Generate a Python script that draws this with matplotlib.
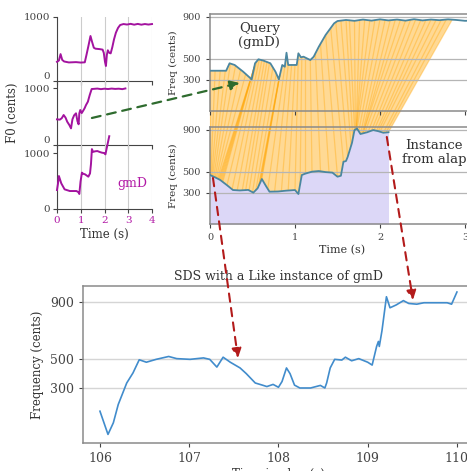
import numpy as np
import matplotlib
matplotlib.use('Agg')
import matplotlib.pyplot as plt
from matplotlib.patches import Polygon, ConnectionPatch
from matplotlib.lines import Line2D

plt.rcParams['font.family'] = 'DejaVu Serif'
plt.rcParams['text.color'] = '#333333'
plt.rcParams['axes.labelcolor'] = '#333333'
plt.rcParams['xtick.color'] = '#444444'
plt.rcParams['ytick.color'] = '#444444'

# --- three gmD instances (left panel), time in s, F0 in cents
gmd1_t = [0, 0.08, 0.15, 0.22, 0.3, 0.5, 0.8, 1.0, 1.17, 1.24, 1.33, 1.41, 1.47, 1.55, 1.62, 1.8,
          1.92, 1.97, 2.02, 2.06, 2.1, 2.14, 2.2, 2.26, 2.33, 2.4, 2.48, 2.57, 2.66, 2.8, 2.95, 3.1,
          3.25, 3.4, 3.55, 3.7, 3.85, 4.0]
gmd1_f = [300, 320, 420, 330, 305, 290, 295, 288, 292, 406, 560, 703, 620, 520, 505, 498,
          490, 440, 300, 234, 410, 480, 440, 432, 530, 650, 755, 830, 875, 890, 882, 893,
          880, 892, 880, 890, 882, 890]

gmd2_t = [0, 0.12, 0.2, 0.28, 0.36, 0.43, 0.52, 0.59, 0.65, 0.72, 0.8, 0.86, 0.91, 0.94, 0.98,
          1.04, 1.1, 1.16, 1.22, 1.3, 1.38, 1.46, 1.55, 1.7, 1.85, 2.0, 2.15, 2.3, 2.45, 2.6, 2.75, 2.88]
gmd2_f = [450, 445, 470, 526, 480, 409, 350, 292, 450, 520, 556, 420, 363, 556, 614,
          560, 600, 643, 700, 760, 880, 982, 985, 990, 980, 988, 982, 990, 984, 988, 980, 992]

gmd3_t = [0, 0.04, 0.08, 0.18, 0.32, 0.54, 0.82, 0.9, 0.94, 0.99, 1.05, 1.1, 1.18, 1.32, 1.39,
          1.43, 1.47, 1.52, 1.6, 1.7, 1.8, 1.9, 1.98, 2.04, 2.1, 2.15, 2.2]
gmd3_f = [339, 450, 589, 458, 351, 321, 321, 300, 268, 488, 649, 630, 619, 577, 636,
          800, 1070, 1020, 1030, 1035, 1018, 1005, 1000, 976, 1100, 1200, 1300]

# --- query (gmD) and the matched instance from the alap
query_t = [0, 0.19, 0.23, 0.29, 0.39, 0.49, 0.53, 0.57, 0.63, 0.71, 0.77, 0.81, 0.85, 0.88, 0.9,
           0.92, 0.96, 1.02, 1.04, 1.07, 1.1, 1.18, 1.22, 1.28, 1.36, 1.46, 1.5, 1.6, 1.7, 1.8,
           1.9, 2.0, 2.1, 2.2, 2.3, 2.4, 2.5, 2.6, 2.7, 2.8, 2.9, 3.0, 3.1]
query_f = [384, 384, 455, 439, 375, 302, 455, 493, 480, 455, 375, 302, 439, 422, 556,
           439, 439, 439, 550, 512, 518, 486, 518, 613, 725, 836, 858, 868, 860, 872,
           862, 874, 864, 872, 862, 875, 864, 872, 866, 874, 868, 860, 862]

inst_t = [0, 0.06, 0.12, 0.2, 0.27, 0.35, 0.45, 0.51, 0.56, 0.61, 0.66, 0.7, 0.8, 0.9, 1.0,
          1.04, 1.08, 1.12, 1.2, 1.28, 1.36, 1.44, 1.5, 1.54, 1.57, 1.6, 1.62, 1.67, 1.7, 1.73,
          1.77, 1.85, 1.92, 1.98, 2.04, 2.1]
inst_f = [467, 445, 420, 370, 324, 320, 325, 299, 340, 429, 360, 308, 310, 318, 324,
          286, 467, 480, 499, 505, 495, 490, 451, 460, 594, 600, 640, 772, 896, 910,
          858, 875, 896, 885, 870, 875]

# DTW alignment: matched (query time, instance time) pairs
match_q = [0, 0.06, 0.12, 0.18, 0.24, 0.30, 0.36, 0.42, 0.48, 0.52, 0.52, 0.52, 0.52, 0.52,
           0.55, 0.58, 0.61, 0.64, 0.67, 0.70, 0.74, 0.78, 0.81, 0.82, 0.82, 0.82, 0.82,
           0.88, 0.92, 0.96, 1.0, 1.04, 1.08, 1.12, 1.18, 1.24, 1.3, 1.36, 1.42, 1.48, 1.54,
           1.6, 1.64, 1.7, 1.76, 1.82, 1.88, 1.94, 2.0, 2.06, 2.12, 2.18, 2.24, 2.3, 2.36,
           2.42, 2.48, 2.54, 2.6, 2.66, 2.72, 2.78, 2.85]
match_i = [0, 0.01, 0.02, 0.03, 0.045, 0.06, 0.075, 0.09, 0.10, 0.11, 0.12, 0.13, 0.14, 0.15,
           0.2, 0.26, 0.32, 0.38, 0.42, 0.46, 0.5, 0.54, 0.57, 0.58, 0.59, 0.60, 0.61,
           0.68, 0.76, 0.84, 0.92, 1.0, 1.06, 1.12, 1.2, 1.3, 1.4, 1.5, 1.57, 1.62, 1.66,
           1.68, 1.7, 1.71, 1.72, 1.72, 1.72, 1.73, 1.75, 1.77, 1.79, 1.8, 1.8, 1.82, 1.86,
           1.9, 1.93, 1.96, 1.98, 2.0, 2.04, 2.07, 2.1]

# --- SDS segment of the alap
sds_t = [106.0, 106.09, 106.15, 106.205, 106.3, 106.37, 106.44, 106.52, 106.63, 106.77, 106.86,
         107.01, 107.16, 107.23, 107.31, 107.38, 107.46, 107.57, 107.64, 107.74, 107.83, 107.87,
         107.94, 108.0, 108.04, 108.09, 108.13, 108.18, 108.24, 108.36, 108.47, 108.52, 108.54,
         108.58, 108.63, 108.71, 108.75, 108.82, 108.9, 109.0, 109.05, 109.1, 109.12, 109.13,
         109.16, 109.21, 109.25, 109.32, 109.4, 109.46, 109.55, 109.63, 109.74, 109.89, 109.94, 110.0]
sds_f = [138, -24, 57, 185, 335, 405, 497, 480, 500, 520, 505,
         500, 510, 500, 446, 515, 480, 440, 400, 335, 318, 310,
         325, 305, 345, 440, 400, 320, 300, 300, 318, 300, 335,
         440, 500, 495, 515, 490, 505, 480, 460, 590, 625, 590,
         700, 937, 860, 880, 910, 890, 885, 895, 895, 895, 885, 970]

W, H = 467, 471
fig = plt.figure(figsize=(W / 100, H / 100), dpi=100)


def box(x0, y0, x1, y1):
    return [x0 / W, 1 - y1 / H, (x1 - x0) / W, (y1 - y0) / H]


magenta = '#a3139f'

# left panel
ax_g1 = fig.add_axes(box(57, 17, 152, 81))
ax_g2 = fig.add_axes(box(57, 81, 152, 145))
ax_g3 = fig.add_axes(box(57, 145, 152, 209))
for ax, t, f, top in [(ax_g1, gmd1_t, gmd1_f, 1000), (ax_g2, gmd2_t, gmd2_f, 1123),
                      (ax_g3, gmd3_t, gmd3_f, 1143)]:
    ax.plot(t, f, color=magenta, lw=1.4, clip_on=False, zorder=3)
    ax.set_xlim(0, 4)
    ax.set_ylim(0, top)
    ax.set_yticks([0, 1000])
    ax.set_xticks([0, 1, 2, 3, 4])
    ax.grid(axis='x', color='#cccccc', lw=0.8)
    ax.spines[['top', 'right']].set_visible(False)
    for s in ['left', 'bottom']:
        ax.spines[s].set_color('#444444')
    ax.tick_params(labelsize=7.5, length=3, width=0.8, pad=2)
    ax.patch.set_alpha(0)
# the "0" labels of the upper two strips sit just above their baseline
for ax in [ax_g1, ax_g2]:
    ax.tick_params(labelbottom=False)
    ax.get_yticklabels()[0].set_verticalalignment('bottom')
ax_g3.tick_params(axis='x', labelcolor='#b21aa6')
ax_g2.set_ylabel('F0 (cents)', fontsize=8.5, labelpad=3)
ax_g3.set_xlabel('Time (s)', fontsize=8.5, labelpad=2)
ax_g3.text(3.16, 464, 'gmD', color='#b21aa6', fontsize=9, ha='center', va='center')

# query / instance panels
line_col = '#4a86a0'
ax_q = fig.add_axes(box(210, 14, 473.5, 111))
ax_i = fig.add_axes(box(210, 127, 473.5, 224))
for ax in [ax_q, ax_i]:
    ax.set_xlim(0, 3.1)
    ax.set_ylim(0, 925)
    ax.set_yticks([300, 500, 900])
    ax.set_xticks([0, 1, 2, 3])
    ax.grid(axis='y', color='#b5b5b5', lw=0.9)
    ax.set_facecolor('none')
    for s in ax.spines.values():
        s.set_color('#8a8a8a')
        s.set_linewidth(1.1)
    ax.tick_params(labelsize=7, length=3, width=0.8)
    ax.set_ylabel('Freq (cents)', fontsize=7.5, labelpad=3)
ax_q.tick_params(labelbottom=False)
ax_q.plot(query_t, query_f, color=line_col, lw=1.3, zorder=3)
ax_i.fill_between(inst_t, 0, inst_f, color='#dcd7f7', lw=0, zorder=1)
ax_i.plot(inst_t, inst_f, color=line_col, lw=1.3, zorder=3)
ax_i.set_xlabel('Time (s)', fontsize=8, labelpad=2)
ax_q.text(0.58, 720, 'Query\n(gmD)', ha='center', va='center', fontsize=9.5, linespacing=1.1)
ax_i.text(2.64, 680, 'Instance\nfrom alap', ha='center', va='center', fontsize=9.5,
          linespacing=1.1, clip_on=False)

# SDS panel
ax_s = fig.add_axes(box(83, 286, 473, 443))
ax_s.plot(sds_t, sds_f, color='#418ccc', lw=1.2)
ax_s.set_xlim(105.81, 110.18)
ax_s.set_ylim(-84, 1012)
ax_s.set_yticks([300, 500, 900])
ax_s.set_xticks([106, 107, 108, 109, 110])
ax_s.grid(axis='y', color='#d5d5d5', lw=1.0)
for s in ax_s.spines.values():
    s.set_color('#8a8a8a')
    s.set_linewidth(1.1)
ax_s.tick_params(labelsize=9, length=3, width=0.8)
ax_s.set_title('SDS with a Like instance of gmD', fontsize=9, pad=4)
ax_s.set_ylabel('Frequency (cents)', fontsize=8.5)
ax_s.set_xlabel('Time in alap (s)', fontsize=8.5, labelpad=2)


def to_fig(ax, x, y):
    pts = ax.transData.transform(np.column_stack([x, y]))
    return fig.transFigure.inverted().transform(pts)


# alignment band between query and instance
qt = np.array(query_t)
qf = np.array(query_f)
it = np.array(inst_t)
iff = np.array(inst_f)
q_end = match_q[-1]
i_end = match_i[-1]
qx = np.append(qt[qt < q_end], q_end)
qy = np.interp(qx, qt, qf)
ix = np.append(it[it < i_end], i_end)
iy = np.interp(ix, it, iff)
band = np.vstack([to_fig(ax_q, qx, qy), to_fig(ax_i, ix[::-1], iy[::-1])])
fig.add_artist(Polygon(band, closed=True, transform=fig.transFigure, facecolor='#ffa500',
                       alpha=0.42, edgecolor='none', zorder=-2))

mq = to_fig(ax_q, match_q, np.interp(match_q, qt, qf))
mi = to_fig(ax_i, match_i, np.interp(match_i, it, iff))
for a, b in zip(mq, mi):
    fig.add_artist(Line2D([a[0], b[0]], [a[1], b[1]], transform=fig.transFigure,
                          color='#ffa500', alpha=0.35, lw=0.9, zorder=-1))

# arrows
green = ConnectionPatch(xyA=(1.47, 474), coordsA='data', axesA=ax_g2,
                        xyB=(0.35, 267), coordsB='data', axesB=ax_q,
                        arrowstyle='-|>', mutation_scale=14, color='#2e6b2e',
                        lw=1.6, linestyle=(0, (4, 3)), zorder=10)
fig.add_artist(green)
for a, b in [((0.035, 439), (107.546, 509)), ((2.08, 830), (109.507, 914))]:
    red = ConnectionPatch(xyA=a, coordsA='data', axesA=ax_i,
                          xyB=b, coordsB='data', axesB=ax_s,
                          arrowstyle='-|>', mutation_scale=14, color='#b31b1b',
                          lw=1.5, linestyle=(0, (4, 3)), zorder=10)
    fig.add_artist(red)

fig.savefig('out.png', dpi=100)
